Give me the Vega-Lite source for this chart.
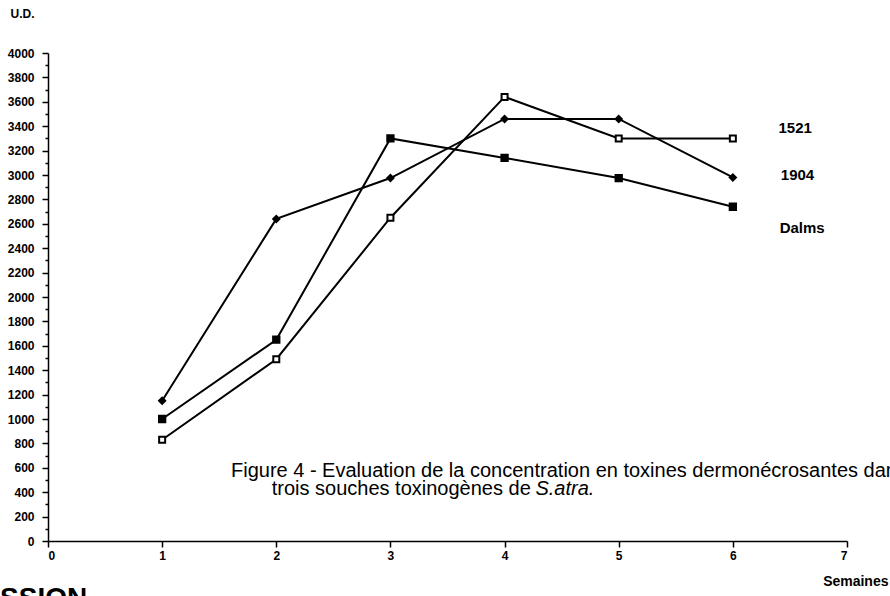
{
  "$schema": "https://vega.github.io/schema/vega-lite/v6.json",
  "width": 799,
  "height": 488,
  "padding": {"left": 48, "top": 53, "right": 43, "bottom": 55},
  "autosize": "none",
  "background": "white",
  "config": {
    "view": {"stroke": null},
    "font": "Liberation Sans",
    "axis": {"grid": false, "domainColor": "black", "tickColor": "black", "labelColor": "black", "titleColor": "black", "domainWidth": 1.5, "tickWidth": 1.5, "labelFont": "Liberation Sans", "titleFont": "Liberation Sans", "labelFontWeight": "bold", "titleFontWeight": "bold", "labelFontSize": 12}
  },
  "datasets": {
    "series": [
      {"semaine": 1, "ud": 1150, "souche": "1904"},
      {"semaine": 2, "ud": 2640, "souche": "1904"},
      {"semaine": 3, "ud": 2975, "souche": "1904"},
      {"semaine": 4, "ud": 3460, "souche": "1904"},
      {"semaine": 5, "ud": 3460, "souche": "1904"},
      {"semaine": 6, "ud": 2980, "souche": "1904"},
      {"semaine": 1, "ud": 1000, "souche": "Dalms"},
      {"semaine": 2, "ud": 1650, "souche": "Dalms"},
      {"semaine": 3, "ud": 3300, "souche": "Dalms"},
      {"semaine": 4, "ud": 3140, "souche": "Dalms"},
      {"semaine": 5, "ud": 2975, "souche": "Dalms"},
      {"semaine": 6, "ud": 2740, "souche": "Dalms"},
      {"semaine": 1, "ud": 830, "souche": "1521"},
      {"semaine": 2, "ud": 1490, "souche": "1521"},
      {"semaine": 3, "ud": 2650, "souche": "1521"},
      {"semaine": 4, "ud": 3640, "souche": "1521"},
      {"semaine": 5, "ud": 3300, "souche": "1521"},
      {"semaine": 6, "ud": 3300, "souche": "1521"}
    ],
    "labels": [
      {"label": "1521", "semaine": 6.40, "ud": 3385},
      {"label": "1904", "semaine": 6.42, "ud": 3000},
      {"label": "Dalms", "semaine": 6.41, "ud": 2565}
    ],
    "caption1": [
      {"text": "Figure 4 - Evaluation de la concentration en toxines dermonécrosantes dans les", "semaine": 1.603, "ud": 574},
      {"text": "trois souches toxinogènes de", "semaine": 1.96, "ud": 430}
    ],
    "caption2": [
      {"text": "S.atra.", "semaine": 4.27, "ud": 430}
    ],
    "footer": [
      {"text": "SSION", "semaine": -0.42, "ud": -361}
    ]
  },
  "encoding": {
    "x": {"field": "semaine", "type": "quantitative", "scale": {"domain": [0, 7], "nice": false},
      "axis": {"values": [0, 0.5, 1, 1.5, 2, 2.5, 3, 3.5, 4, 4.5, 5, 5.5, 6, 6.5, 7],
        "format": "d",
        "labelOverlap": false,
        "labelExpr": "datum.value % 1 === 0 ? datum.label : ''",
        "labelFontSize": {"condition": {"test": "datum.value % 1 === 0", "value": 12}, "value": 0},
        "tickSize": {"condition": {"test": "datum.value % 1 === 0", "value": 6}, "value": 3},
        "labelPadding": 3,
        "title": "Semaines", "titleAlign": "right", "titleX": 840, "titleY": 40, "titleBaseline": "middle", "titleFontSize": 14}},
    "y": {"field": "ud", "type": "quantitative", "scale": {"domain": [0, 4000], "nice": false},
      "axis": {"values": [0,100,200,300,400,500,600,700,800,900,1000,1100,1200,1300,1400,1500,1600,1700,1800,1900,2000,2100,2200,2300,2400,2500,2600,2700,2800,2900,3000,3100,3200,3300,3400,3500,3600,3700,3800,3900,4000],
        "labelExpr": "datum.value % 200 === 0 ? datum.label : ''",
        "labelFontSize": {"condition": {"test": "datum.value % 200 === 0", "value": 12}, "value": 0},
        "format": "d",
        "labelOverlap": false,
        "tickSize": {"condition": {"test": "datum.value % 200 === 0", "value": 6}, "value": 3},
        "labelPadding": 8,
        "title": "U.D.", "titleAngle": 0, "titleAlign": "left", "titleX": -38, "titleY": -40, "titleBaseline": "middle", "titleFontSize": 12}}
  },
  "layer": [
    {
      "data": {"name": "series"},
      "mark": {"type": "line", "color": "black", "strokeWidth": 2},
      "encoding": {
        "detail": {"field": "souche"}
      }
    },
    {
      "data": {"name": "series"},
      "mark": {"type": "point", "filled": true, "stroke": "black", "strokeWidth": 2, "opacity": 1},
      "encoding": {
        "shape": {"field": "souche", "type": "nominal", "scale": {"domain": ["1521", "1904", "Dalms"], "range": ["square", "diamond", "square"]}, "legend": null},
        "fill": {"field": "souche", "type": "nominal", "scale": {"domain": ["1521", "1904", "Dalms"], "range": ["white", "black", "black"]}, "legend": null},
        "size": {"field": "souche", "type": "nominal", "scale": {"domain": ["1521", "1904", "Dalms"], "range": [36, 40, 40]}, "legend": null}
      }
    },
    {
      "data": {"name": "labels"},
      "mark": {"type": "text", "align": "left", "baseline": "middle", "fontWeight": "bold", "fontSize": 15, "font": "Liberation Sans", "color": "black"},
      "encoding": {
        "text": {"field": "label"}
      }
    },
    {
      "data": {"name": "caption1"},
      "mark": {"type": "text", "align": "left", "baseline": "middle", "fontSize": 20, "font": "Liberation Sans", "color": "black"},
      "encoding": {
        "text": {"field": "text"}
      }
    },
    {
      "data": {"name": "caption2"},
      "mark": {"type": "text", "align": "left", "baseline": "middle", "fontSize": 20, "fontStyle": "italic", "font": "Liberation Sans", "color": "black"},
      "encoding": {
        "text": {"field": "text"}
      }
    },
    {
      "data": {"name": "footer"},
      "mark": {"type": "text", "align": "left", "baseline": "top", "fontSize": 28, "fontWeight": "bold", "font": "Liberation Sans", "color": "black"},
      "encoding": {
        "text": {"field": "text"}
      }
    }
  ]
}
